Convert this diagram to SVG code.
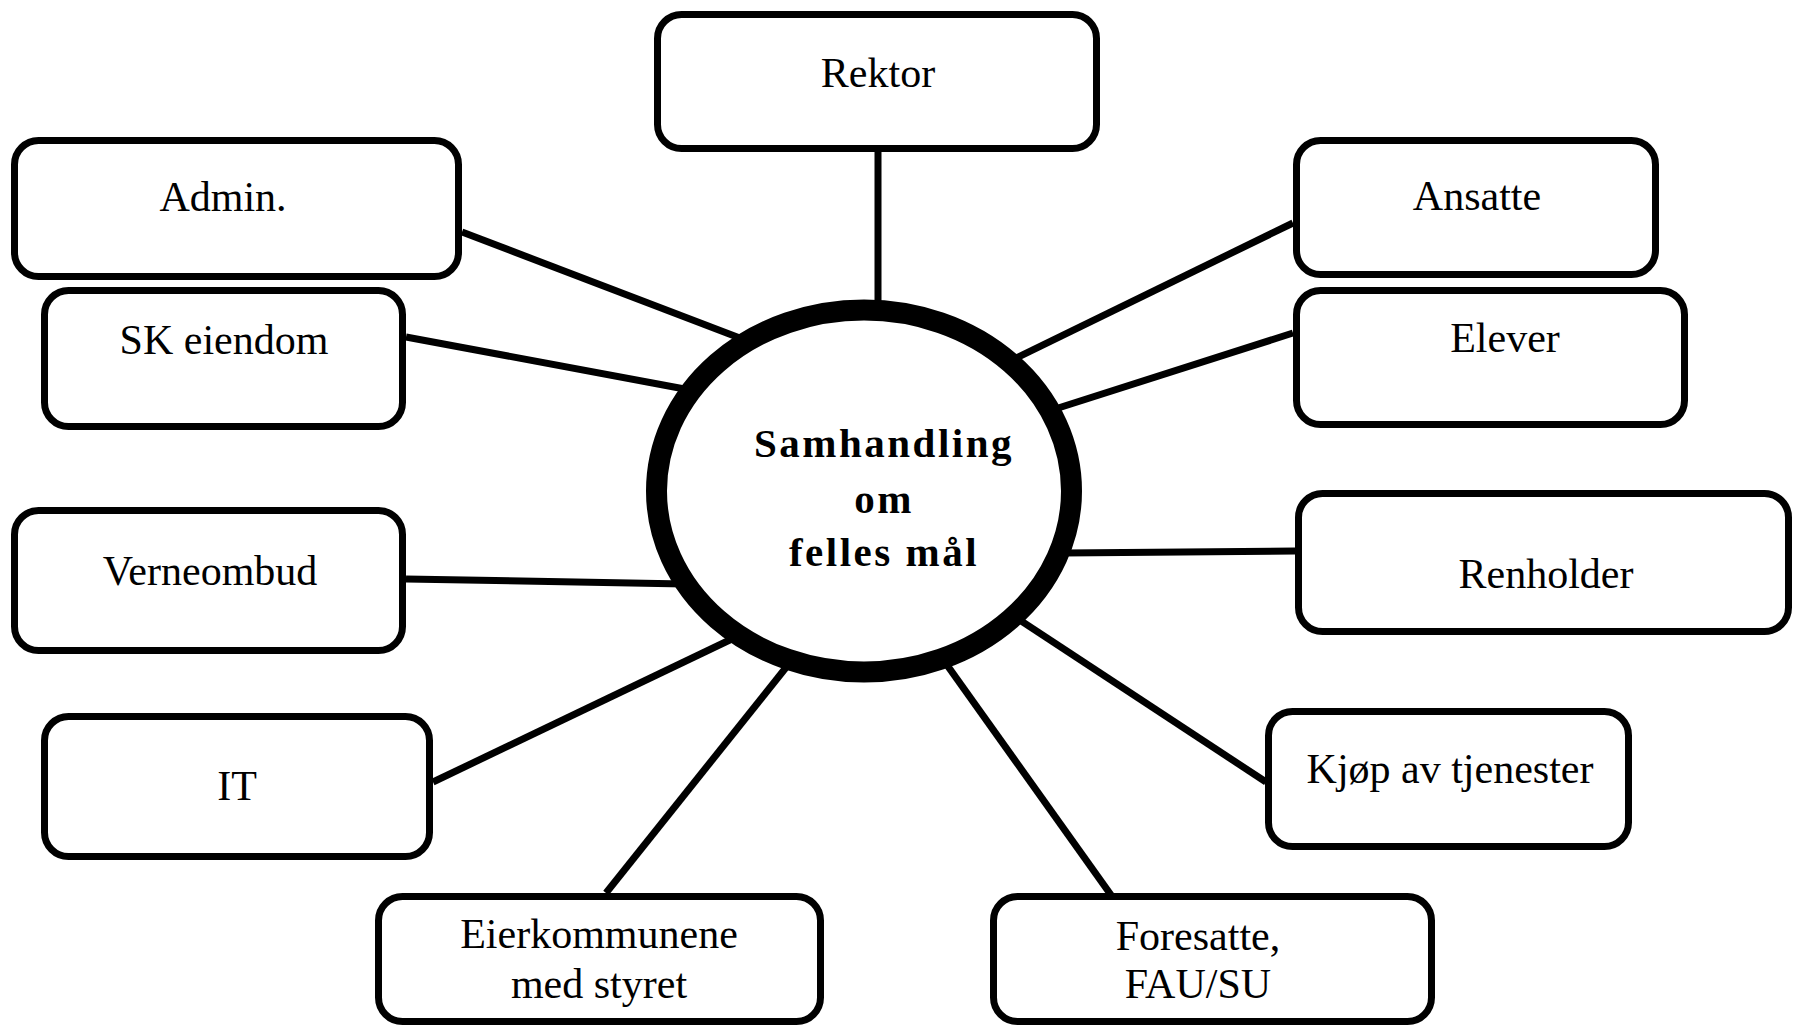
<svg xmlns="http://www.w3.org/2000/svg" width="1793" height="1026" viewBox="0 0 1793 1026">
<style>
.box{fill:#fff;stroke:#000;stroke-width:7}
.lbl{font-family:"Liberation Serif","Times New Roman",serif;font-size:42px;fill:#000;text-anchor:middle}
.ctr{font-family:"Liberation Serif","Times New Roman",serif;font-size:41px;font-weight:bold;letter-spacing:2.5px;fill:#000;text-anchor:middle}
.con{stroke:#000;stroke-width:7;fill:none;stroke-linecap:butt}
</style>
<rect width="1793" height="1026" fill="#fff"/>
<g id="connectors">
<line class="con" x1="878" y1="152" x2="878" y2="320"/>
<line class="con" x1="462" y1="232" x2="745" y2="340"/>
<line class="con" x1="406" y1="337" x2="690" y2="390"/>
<line class="con" x1="1293" y1="223" x2="1012" y2="360"/>
<line class="con" x1="1293" y1="333" x2="1052" y2="410"/>
<line class="con" x1="406" y1="579" x2="685" y2="584"/>
<line class="con" x1="433" y1="782" x2="736" y2="637"/>
<line class="con" x1="606" y1="893" x2="792" y2="660"/>
<line class="con" x1="1064" y1="553" x2="1295" y2="551"/>
<line class="con" x1="1015" y1="617" x2="1266" y2="782"/>
<line class="con" x1="942" y1="658" x2="1111" y2="895"/>
</g>
<g id="center">
<ellipse cx="864" cy="491" rx="207.5" ry="181" fill="#fff" stroke="#000" stroke-width="21"/>
<text class="ctr" x="884" y="457">Samhandling</text>
<text class="ctr" x="884" y="513">om</text>
<text class="ctr" x="884" y="566">felles mål</text>
</g>
<g id="rektor"><rect class="box" x="657.5" y="14.5" width="439" height="134" rx="24"/><text class="lbl" x="878" y="87">Rektor</text></g>
<g id="admin"><rect class="box" x="14.5" y="140.5" width="444" height="136" rx="24"/><text class="lbl" x="223" y="211">Admin.</text></g>
<g id="sk-eiendom"><rect class="box" x="44.5" y="290.5" width="358" height="136" rx="24"/><text class="lbl" x="224" y="354">SK eiendom</text></g>
<g id="ansatte"><rect class="box" x="1296.5" y="140.5" width="359" height="134" rx="24"/><text class="lbl" x="1477" y="210">Ansatte</text></g>
<g id="elever"><rect class="box" x="1296.5" y="290.5" width="388" height="134" rx="24"/><text class="lbl" x="1505" y="352">Elever</text></g>
<g id="verneombud"><rect class="box" x="14.5" y="510.5" width="388" height="140" rx="24"/><text class="lbl" x="210" y="585">Verneombud</text></g>
<g id="renholder"><rect class="box" x="1298.5" y="493.5" width="490" height="138" rx="24"/><text class="lbl" x="1546" y="588">Renholder</text></g>
<g id="it"><rect class="box" x="44.5" y="716.5" width="385" height="140" rx="24"/><text class="lbl" x="237" y="800">IT</text></g>
<g id="kjop"><rect class="box" x="1268.5" y="711.5" width="360" height="135" rx="24"/><text class="lbl" x="1450" y="783">Kjøp av tjenester</text></g>
<g id="eierkommunene"><rect class="box" x="378.5" y="896.5" width="442" height="125" rx="24"/><text class="lbl" x="599" y="948">Eierkommunene</text><text class="lbl" x="599" y="998">med styret</text></g>
<g id="foresatte"><rect class="box" x="993.5" y="896.5" width="438" height="125" rx="24"/><text class="lbl" x="1198" y="950">Foresatte,</text><text class="lbl" x="1198" y="998">FAU/SU</text></g>
</svg>
